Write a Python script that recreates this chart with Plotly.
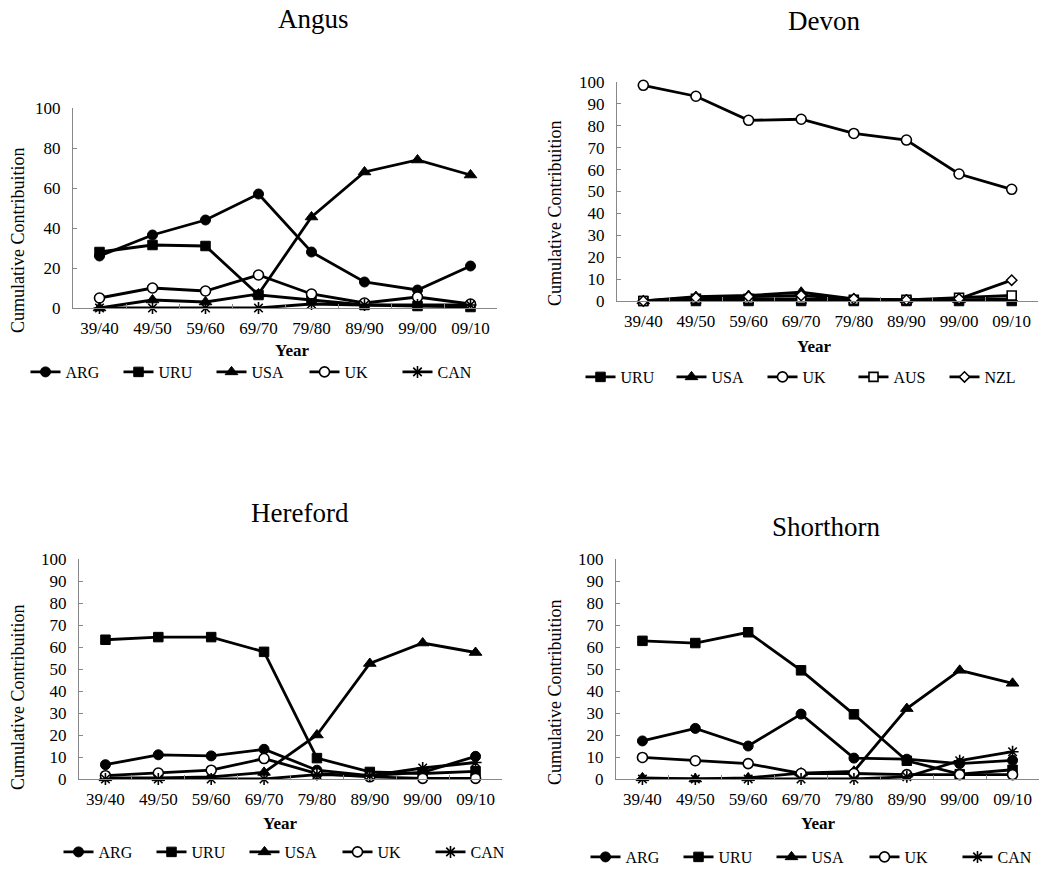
import plotly.graph_objects as go

W, H = 1044, 870
FONT = "Liberation Serif, Times New Roman, serif"

years = ["39/40", "49/50", "59/60", "69/70", "79/80", "89/90", "99/00", "09/10"]

# Angus
angus_arg = [26, 36.5, 44, 57, 28, 13, 9, 21]
angus_uru = [28, 31.5, 31, 6.5, 4, 1.5, 1, 0.5]
angus_usa = [0, 4, 3, 7, 45.5, 68, 74, 66.5]
angus_uk = [5, 10, 8.5, 16.5, 7, 2.5, 5.5, 2]
angus_can = [0, 0, 0, 0, 2, 1.5, 1.5, 1.5]

# Devon
devon_uru = [0, 0, 0, 0, 0, 0, 0, 0]
devon_usa = [0, 2, 2.5, 4, 1, 0.5, 0.5, 1]
devon_uk = [98.5, 93.5, 82.5, 83, 76.5, 73.5, 58, 51]
devon_aus = [0, 1, 1, 1, 0.5, 0.5, 1.5, 2.5]
devon_nzl = [0, 1.5, 2, 2.5, 1, 0.5, 1, 9.5]

# Hereford
hereford_arg = [6.5, 11, 10.5, 13.5, 4, 1.5, 3, 10.3]
hereford_uru = [63.3, 64.5, 64.5, 57.8, 9.5, 3.2, 2.5, 3.5]
hereford_usa = [0.5, 0.5, 1, 3, 20, 52.5, 61.8, 57.5]
hereford_uk = [1.5, 2.7, 4, 9.3, 2.5, 1, 0.3, 0.3]
hereford_can = [0, 0, 0, 0, 2, 1.5, 5, 7.5]

# Shorthorn
shorthorn_arg = [17.3, 23, 15, 29.5, 9.5, 9, 7, 8.5]
shorthorn_uru = [62.8, 61.8, 66.7, 49.4, 29.4, 8.3, 2.2, 4.2]
shorthorn_usa = [0.5, 0, 0.5, 2.7, 3.5, 32, 49.4, 43.5]
shorthorn_uk = [9.8, 8.3, 7, 2.5, 2.5, 2, 2, 2]
shorthorn_can = [0, 0, 0, 0, 0, 1, 8.3, 12.4]

titles = ["Angus", "Devon", "Hereford", "Shorthorn"]
y_title = "Cumulative Contribuition"
x_title = "Year"

STYLE = {
    "ARG": dict(symbol="circle", size=10, color="black", line=dict(color="black", width=1)),
    "URU": dict(symbol="square", size=9.5, color="black", line=dict(color="black", width=1)),
    "USA": dict(symbol="triangle-up", size=11, color="black", line=dict(color="black", width=1)),
    "UK": dict(symbol="circle", size=10, color="white", line=dict(color="black", width=1.6)),
    "CAN": dict(symbol="asterisk-open", size=10, color="black", line=dict(color="black", width=1.6)),
    "AUS": dict(symbol="square", size=9, color="white", line=dict(color="black", width=1.6)),
    "NZL": dict(symbol="diamond", size=8, color="white", line=dict(color="black", width=1.5)),
}

panels = [
    dict(series=[("ARG", angus_arg), ("URU", angus_uru), ("USA", angus_usa), ("UK", angus_uk), ("CAN", angus_can)],
         xpx=(73, 497), ypx=(108, 308), dtick=20, leg=(258, 372, 48), tpos=(313, 19), ytpos=(18, 240), xtpos=(292, 350)),
    dict(series=[("URU", devon_uru), ("USA", devon_usa), ("UK", devon_uk), ("AUS", devon_aus), ("NZL", devon_nzl)],
         xpx=(617, 1038), ypx=(82, 301), dtick=10, leg=(808, 377, 46), tpos=(824, 21), ytpos=(555, 213), xtpos=(814, 346)),
    dict(series=[("ARG", hereford_arg), ("URU", hereford_uru), ("USA", hereford_usa), ("UK", hereford_uk), ("CAN", hereford_can)],
         xpx=(79, 502), ypx=(559, 779), dtick=10, leg=(291, 852, 48), tpos=(300, 513), ytpos=(18, 697), xtpos=(280, 823)),
    dict(series=[("ARG", shorthorn_arg), ("URU", shorthorn_uru), ("USA", shorthorn_usa), ("UK", shorthorn_uk), ("CAN", shorthorn_can)],
         xpx=(616, 1039), ypx=(559, 779), dtick=10, leg=(818, 857, 48), tpos=(826, 527), ytpos=(555, 692), xtpos=(818, 823)),
]

fig = go.Figure()
layout = dict(
    width=W, height=H, margin=dict(l=0, r=0, t=0, b=0, autoexpand=False),
    paper_bgcolor="white", plot_bgcolor="white",
    font=dict(family=FONT, color="black", size=16),
    annotations=[],
)

for i, p in enumerate(panels):
    n = "" if i == 0 else str(i + 1)
    legname = "legend" + n
    for name, vals in p["series"]:
        st = STYLE[name]
        fig.add_trace(go.Scatter(
            x=years, y=vals, name=name, mode="lines+markers",
            xaxis="x" + n, yaxis="y" + n, legend=legname,
            line=dict(color="black", width=2.8),
            marker=dict(symbol=st["symbol"], size=st["size"], color=st["color"], line=st["line"]),
            cliponaxis=False,
        ))
    x0, x1 = p["xpx"]
    ytop, ybot = p["ypx"]
    layout["xaxis" + n] = dict(
        domain=[x0 / W, x1 / W], anchor="y" + n, type="category",
        range=[-0.5, 7.5], tickson="boundaries", ticks="inside", ticklen=4,
        tickcolor="#888", showline=True, linecolor="#888", linewidth=1,
        showgrid=False, zeroline=False, tickfont=dict(size=17, family=FONT),
        ticklabelstandoff=5, tickangle=0,
    )
    layout["yaxis" + n] = dict(
        domain=[1 - ybot / H, 1 - ytop / H], anchor="x" + n,
        range=[0, 100], dtick=p["dtick"], tick0=0, ticks="inside", ticklen=4,
        tickcolor="#888", showline=True, linecolor="#888", linewidth=1,
        showgrid=False, zeroline=False, tickfont=dict(size=17, family=FONT),
        ticklabelstandoff=8,
    )
    lx, ly, ew = p["leg"]
    layout[legname] = dict(
        orientation="h", x=lx / W, y=1 - ly / H, xanchor="center", yanchor="middle",
        font=dict(size=16, family=FONT), bgcolor="rgba(0,0,0,0)", itemwidth=30,
        entrywidth=ew, entrywidthmode="pixels", tracegroupgap=0,
    )
    tx, ty = p["tpos"]
    layout["annotations"].append(dict(
        text=titles[i], x=tx / W, y=1 - ty / H, xref="paper", yref="paper",
        xanchor="center", yanchor="middle", showarrow=False, font=dict(size=27, family=FONT)))
    yx, yy = p["ytpos"]
    layout["annotations"].append(dict(
        text=y_title, x=yx / W, y=1 - yy / H, xref="paper", yref="paper", textangle=-90,
        xanchor="center", yanchor="middle", showarrow=False, font=dict(size=18, family=FONT)))
    xx, xy = p["xtpos"]
    layout["annotations"].append(dict(
        text="<b>" + x_title + "</b>", x=xx / W, y=1 - xy / H, xref="paper", yref="paper",
        xanchor="center", yanchor="middle", showarrow=False, font=dict(size=17, family=FONT)))

fig.update_layout(**layout)
fig.write_html("out.html")
